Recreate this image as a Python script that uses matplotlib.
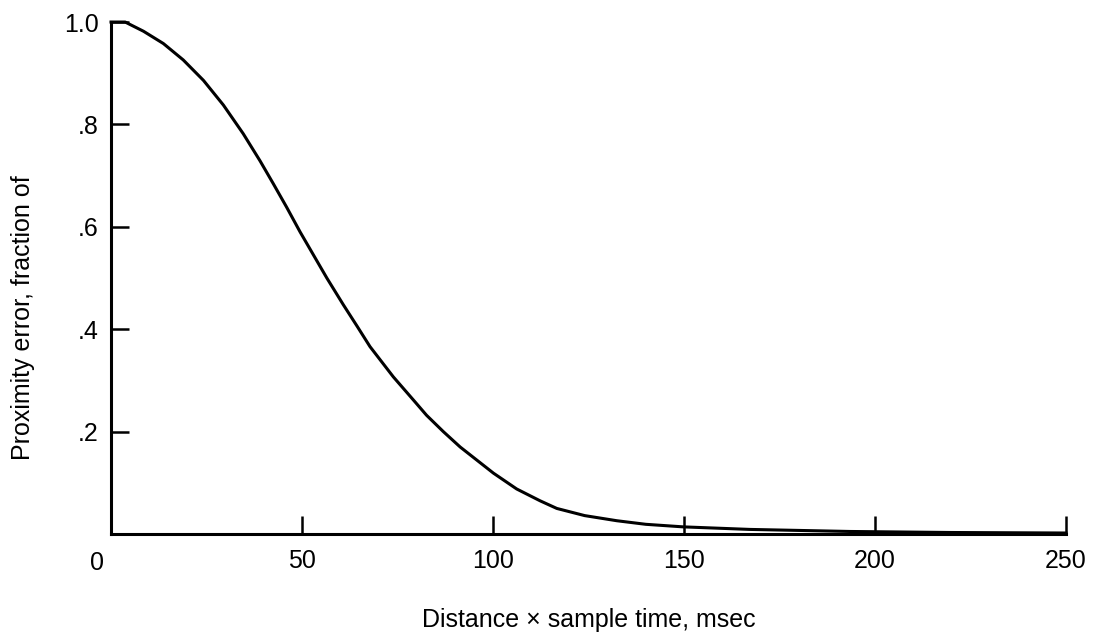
import numpy as np
import matplotlib.pyplot as plt

plt.rcParams['font.family'] = ['Liberation Sans', 'DejaVu Sans']

# Curve (distance x sample time in msec, proximity error)
distance = [0, 3.7, 8.5, 13.7, 18.9, 24.2, 29.4, 34.6, 39.0, 42.5, 46.0, 49.5,
            53.0, 56.5, 60.8, 64.5, 67.8, 73.9, 79.6, 82.6, 87.0, 91.4, 100.1,
            106.2, 112.3, 116.7, 124.0, 132.4, 140.0, 149.8, 167.3, 193.5,
            220, 250]
error = [1.0, 1.0, 0.982, 0.958, 0.926, 0.886, 0.838, 0.782, 0.729, 0.684,
         0.638, 0.590, 0.545, 0.500, 0.448, 0.405, 0.366, 0.307, 0.258, 0.232,
         0.200, 0.170, 0.119, 0.088, 0.065, 0.050, 0.036, 0.026, 0.019, 0.014,
         0.009, 0.005, 0.003, 0.002]

x_ticks = [50, 100, 150, 200, 250]
y_ticks = [0.2, 0.4, 0.6, 0.8, 1.0]
y_tick_labels = ['.2', '.4', '.6', '.8', '1.0']

fig = plt.figure(figsize=(10.96, 6.35), dpi=100)
ax = fig.add_axes([0.1013, 0.159, 0.8713, 0.8063])

ax.plot(distance, error, color='black', linewidth=2.2, clip_on=False,
        solid_joinstyle='round')

ax.set_xlim(0, 250)
ax.set_ylim(0, 1.0)
for side in ['top', 'right']:
    ax.spines[side].set_visible(False)
for side in ['left', 'bottom']:
    ax.spines[side].set_linewidth(2.2)

ax.set_xticks(x_ticks)
ax.set_xticklabels([str(t) for t in x_ticks])
ax.set_yticks(y_ticks)
ax.set_yticklabels(y_tick_labels)
ax.tick_params(axis='x', direction='in', length=13, width=1.8, pad=11,
               labelsize=18)
ax.tick_params(axis='y', direction='in', length=13, width=1.8, pad=9,
               labelsize=18)

# origin label sits left of the y axis
ax.annotate('0', xy=(0, 0), xytext=(-10, -12), textcoords='offset points',
            ha='center', va='top', fontsize=18)

ax.set_xlabel('Distance \u00d7 sample time, msec', fontsize=18, labelpad=25)
ax.set_ylabel('Proximity error, fraction of', fontsize=18, loc='bottom')
ax.yaxis.set_label_coords(-0.08, 0.145)

fig.savefig('out.png', dpi=100)
